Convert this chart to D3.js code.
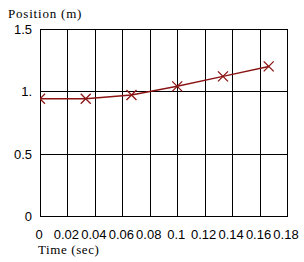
<!DOCTYPE html>
<html>
<head>
<meta charset="utf-8">
<script src="https://cdn.jsdelivr.net/npm/d3@7"></script>
<style>
  body { margin: 0; background: #fff; }
  text { fill: #000; }
  .tick { font-family: "Liberation Sans", Arial, sans-serif; font-size: 13px; }
  .title { font-family: "Liberation Serif", "Times New Roman", serif; font-size: 13px; }
</style>
</head>
<body>
<script>
// sampled positions, one every 1/30 s
const times = [0, 1 / 30, 2 / 30, 3 / 30, 4 / 30, 5 / 30]
const positions = [0.94, 0.94, 0.97, 1.04, 1.12, 1.2]

const xTicks = [0, 0.02, 0.04, 0.06, 0.08, 0.1, 0.12, 0.14, 0.16, 0.18]
const xTickLabels = ['0', '0.02', '0.04', '0.06', '0.08', '0.1', '0.12', '0.14', '0.16', '0.18']
const yTicks = [0, 0.5, 1, 1.5]
const yTickLabels = ['0', '0.5', '1.', '1.5']

const width = 304
const height = 262
const m = {left: 40, right: 17, top: 29, bottom: 46}

const x = d3.scaleLinear().domain([0, 0.18]).range([m.left, width - m.right])
const y = d3.scaleLinear().domain([0, 1.5]).range([height - m.bottom, m.top])

const svg = d3.select('body').append('svg').attr('width', width).attr('height', height)

svg.append('clipPath').attr('id', 'plot')
  .append('rect')
  .attr('x', x(0)).attr('y', y(1.5))
  .attr('width', x(0.18) - x(0)).attr('height', y(0) - y(1.5))

// grid
const grid = svg.append('g').attr('stroke', '#000').attr('stroke-width', 1).attr('shape-rendering', 'crispEdges')
grid.selectAll('.vx').data(xTicks).enter().append('line')
  .attr('x1', d => Math.round(x(d)) + 0.5).attr('x2', d => Math.round(x(d)) + 0.5)
  .attr('y1', y(1.5)).attr('y2', y(0))
grid.selectAll('.hy').data(yTicks).enter().append('line')
  .attr('y1', d => Math.round(y(d)) + 0.5).attr('y2', d => Math.round(y(d)) + 0.5)
  .attr('x1', x(0)).attr('x2', x(0.18) + 1)

// tick labels
svg.append('g').selectAll('text').data(xTicks).enter().append('text')
  .attr('class', 'tick')
  .attr('x', d => x(d) - 1)
  .attr('y', 239)
  .attr('text-anchor', 'middle')
  .text((d, i) => xTickLabels[i])

svg.append('g').selectAll('text').data(yTicks).enter().append('text')
  .attr('class', 'tick')
  .attr('x', 32)
  .attr('y', d => y(d) + 5)
  .attr('text-anchor', 'end')
  .text((d, i) => yTickLabels[i])

// axis titles
svg.append('text')
  .attr('class', 'title')
  .attr('x', 8).attr('y', 18)
  .attr('letter-spacing', 0.8)
  .text('Position (m)')

svg.append('text')
  .attr('class', 'title')
  .attr('x', 38).attr('y', 254)
  .attr('letter-spacing', 0.6)
  .text('Time (sec)')

// data
const pts = d3.zip(times, positions)
const series = svg.append('g').attr('clip-path', 'url(#plot)')
const red = '#8b1414'

series.append('path')
  .attr('d', d3.line().x(d => x(d[0])).y(d => y(d[1]))(pts))
  .attr('fill', 'none')
  .attr('stroke', red)
  .attr('stroke-width', 1.5)

const s = 5
series.selectAll('.mk').data(pts).enter().append('path')
  .attr('d', d => {
    const cx = x(d[0]), cy = y(d[1])
    return `M${cx - s},${cy - s}L${cx + s},${cy + s}M${cx - s},${cy + s}L${cx + s},${cy - s}`
  })
  .attr('stroke', red)
  .attr('stroke-width', 1.3)
  .attr('fill', 'none')
</script>
</body>
</html>
